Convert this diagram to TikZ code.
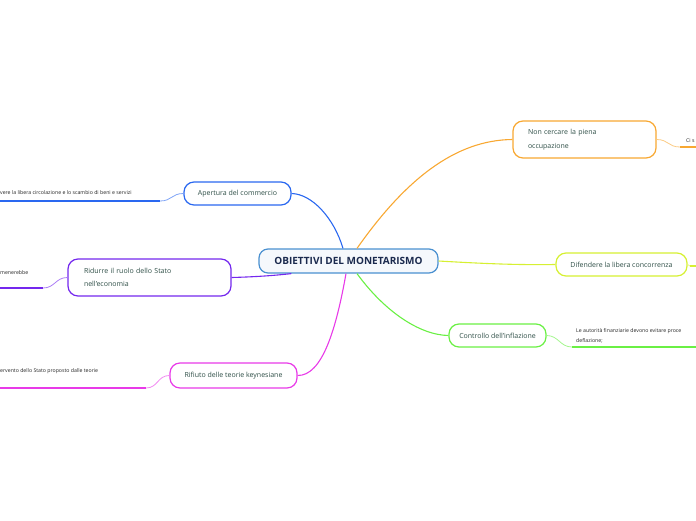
\documentclass[tikz,border=0pt]{standalone}
\usepackage{fontspec}
\setmainfont{Open Sans}
\usepackage{xcolor}
\usepackage{tikz}
\usetikzlibrary{positioning}
\definecolor{navy}{HTML}{1B2A4E}
\definecolor{sky}{HTML}{4A90D0}
\definecolor{pale}{HTML}{F5F8FC}
\definecolor{ramo}{HTML}{2F4F47}
\definecolor{blu}{HTML}{2A68F0}
\definecolor{viola}{HTML}{7428EE}
\definecolor{magenta2}{HTML}{E83AE8}
\definecolor{arancio}{HTML}{F8A832}
\definecolor{giallo}{HTML}{D6F032}
\definecolor{verde}{HTML}{6AF044}

\begin{document}
\begin{tikzpicture}[
  x=1pt,
  y=-1pt,
  centre/.style={draw=sky, line width=1.2pt, rounded corners=9pt, fill=pale, minimum width=179pt, minimum height=24pt, font=\fontsize{10}{12}\selectfont\bfseries, text=navy},
  topic/.style={line width=1.2pt, rounded corners=10pt, fill=white, minimum height=23pt, font=\fontsize{7}{13.5}\selectfont, text=ramo, align=left},
  leaf/.style={font=\fontsize{5.2}{10}\selectfont, text=black!85, inner sep=0pt, anchor=west, align=left},
  branch/.style={line width=1.1pt},
  under/.style={line width=1.6pt}
]
  \useasboundingbox (0,0) rectangle (696,520);
  \clip (0,0) rectangle (696,520);

  \node[centre] (centro) at (348.5,261) {OBIETTIVI DEL MONETARISMO};

  \node[topic, draw=blu, minimum width=107pt] (apertura) at (237.5,193.5) {Apertura del commercio};
  \node[topic, draw=viola, minimum width=163pt, minimum height=37pt, text width=131pt] (ridurre) at (149.5,277.5) {Ridurre il ruolo dello Stato\\nell'economia};
  \node[topic, draw=magenta2, minimum width=127pt, minimum height=25pt] (rifiuto) at (233.5,375.5) {Rifiuto delle teorie keynesiane};
  \node[topic, draw=arancio, minimum width=143pt, minimum height=37pt, text width=113pt] (noncercare) at (584.5,139.5) {Non cercare la piena\\occupazione};
  \node[topic, draw=giallo, minimum width=131pt] (difendere) at (621.5,264.5) {Difendere la libera concorrenza};
  \node[topic, draw=verde, minimum width=97pt] (controllo) at (497.5,335.5) {Controllo dell'inflazione};

  % rami principali
  \draw[branch, blu] ([xshift=-5.5pt]centro.north) .. controls (334,218) and (312,194) .. (apertura.east);
  \draw[branch, arancio] ([xshift=8.5pt]centro.north) .. controls (405,180) and (455,140) .. (noncercare.west);
  \draw[branch, viola] ([xshift=33pt]centro.south west) .. controls (270,276) and (250,277) .. (ridurre.east);
  \draw[branch, magenta2] ([xshift=-2.5pt]centro.south) .. controls (336,330) and (322,376) .. (rifiuto.east);
  \draw[branch, giallo] (centro.east) .. controls (490,264) and (520,265) .. (difendere.west);
  \draw[branch, verde] ([xshift=8.5pt]centro.south) .. controls (385,312) and (420,335) .. (controllo.west);

  % foglie
  \coordinate (f1a) at (160,201);  \coordinate (f1b) at (0,201);
  \coordinate (f2a) at (43,288);   \coordinate (f2b) at (0,288);
  \coordinate (f3a) at (146,388);  \coordinate (f3b) at (0,388);
  \coordinate (f4a) at (680,147);  \coordinate (f4b) at (696,147);
  \coordinate (f5a) at (690,266);  \coordinate (f5b) at (696,266);
  \coordinate (f6a) at (572,347);  \coordinate (f6b) at (696,347);

  \node[leaf] (t1) at (0,192.5) {vere la libera circolazione e lo scambio di beni e servizi};
  \node[leaf] (t2) at (0,272.5) {menerebbe};
  \node[leaf] (t3) at (0,371.5) {ervento dello Stato proposto dalle teorie};
  \node[leaf] (t4) at (686,140.5) {Ci s};
  \node[leaf] (t6) at (576,335.5) {Le autorità finanziarie devono evitare proce\\deflazione;};

  \draw[blu!60, line width=0.8pt] (apertura.west) .. controls +(-12,0) and +(12,0) .. (f1a);
  \draw[under, blu] (f1a) -- (f1b);
  \draw[viola!60, line width=0.8pt] (ridurre.west) .. controls +(-12,0) and +(12,0) .. (f2a);
  \draw[under, viola] (f2a) -- (f2b);
  \draw[magenta2!60, line width=0.8pt] (rifiuto.west) .. controls +(-12,0) and +(12,0) .. (f3a);
  \draw[under, magenta2] (f3a) -- (f3b);
  \draw[arancio!60, line width=0.8pt] (noncercare.east) .. controls +(12,0) and +(-12,0) .. (f4a);
  \draw[under, arancio] (f4a) -- (f4b);
  \draw[giallo!60, line width=0.8pt] (difendere.east) .. controls +(2,0) and +(-2,0) .. (f5a);
  \draw[under, giallo] (f5a) -- (f5b);
  \draw[verde!60, line width=0.8pt] (controllo.east) .. controls +(12,0) and +(-12,0) .. (f6a);
  \draw[under, verde] (f6a) -- (f6b);
\end{tikzpicture}
\end{document}
